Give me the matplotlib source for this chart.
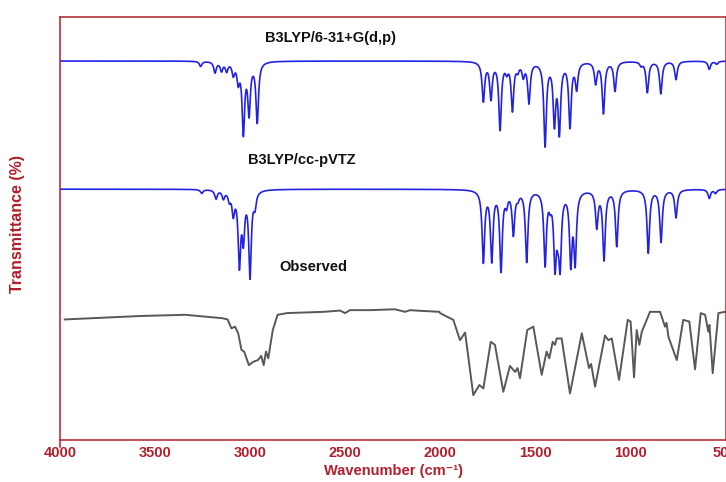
import numpy as np
import matplotlib
matplotlib.use("Agg")
import matplotlib.pyplot as plt

# ---------------- data ----------------
x_ticks = [4000, 3500, 3000, 2500, 2000, 1500, 1000, 500]

# B3LYP/6-31+G(d,p): band centres (cm-1) and band depths (% transmittance)
b1_centers = [3260, 3184, 3150, 3123, 3088, 3062, 3035, 3005, 2962,
              1772, 1732, 1684, 1649, 1619, 1591, 1562, 1532, 1447, 1398,
              1372, 1316, 1281, 1181, 1140, 1079, 942, 909, 838, 758, 583, 544]
b1_depths = [1.2, 2.6, 2.1, 2.1, 2.8, 4.3, 16.5, 11.8, 14.2,
             9.2, 8.5, 15.8, 1.9, 11.3, 1.7, 3.1, 9.5, 19.6, 13.9,
             16.1, 15.1, 6.1, 5.0, 12.1, 6.9, 0.9, 7.3, 7.6, 4.3, 1.9, 0.7]
b1_baseline = 89.6

# B3LYP/cc-pVTZ
b2_centers = [3254, 3179, 3140, 3109, 3088, 3056, 3035, 3000, 2974,
              1772, 1728, 1679, 1650, 1614, 1590, 1544, 1447, 1420, 1395,
              1380, 1368, 1312, 1289, 1175, 1137, 1070, 904, 837, 758, 583, 550]
b2_depths = [0.9, 2.1, 1.9, 2.1, 5.2, 17.0, 10.6, 20.1, 3.3,
             16.8, 16.3, 18.7, 2.8, 10.2, 1.4, 16.8, 17.3, 2.4, 16.5,
             5.9, 16.1, 16.5, 16.3, 8.5, 16.3, 13.2, 14.9, 12.3, 6.6, 2.1, 0.9]
b2_baseline = 59.3

# Observed spectrum (wavenumber, transmittance)
obs_wn = [3975, 3585, 3342, 3147, 3118, 3098, 3079, 3062, 3045, 3031, 3006,
          2982, 2958, 2941, 2928, 2916, 2904, 2880, 2855, 2806, 2612, 2526,
          2500, 2474, 2368, 2237, 2184, 2158, 2126, 2003, 2000, 1930, 1895,
          1868, 1825, 1793, 1772, 1733, 1711, 1667, 1632, 1605, 1592, 1579,
          1541, 1509, 1465, 1439, 1425, 1407, 1395, 1386, 1360, 1316, 1254,
          1216, 1205, 1184, 1132, 1114, 1096, 1058, 1012, 997, 979, 965, 951,
          938, 895, 842, 816, 808, 798, 754, 720, 688, 658, 628, 605, 588,
          582, 565, 535, 500]
obs_T = [28.5, 29.3, 29.6, 28.8, 28.5, 26.4, 26.8, 25.2, 21.3, 20.9, 17.7,
         18.5, 18.9, 19.9, 17.7, 20.9, 19.3, 26.0, 29.6, 30.0, 30.3, 30.6,
         30.0, 30.7, 30.7, 30.9, 30.3, 30.7, 30.6, 30.3, 30.0, 28.4, 23.6,
         25.4, 10.6, 13.0, 12.2, 23.2, 22.5, 11.4, 17.5, 16.1, 17.0, 14.6,
         26.0, 26.8, 15.4, 20.9, 19.3, 23.2, 22.5, 24.0, 24.0, 11.0, 25.2,
         17.0, 18.0, 12.6, 24.7, 23.6, 24.0, 14.2, 28.4, 28.0, 14.8, 26.0, 22.5,
         25.6, 30.3, 30.3, 26.8, 27.7, 24.4, 18.9, 28.4, 28.0, 16.7, 30.0, 29.6, 25.6,
         27.2, 15.8, 30.0, 30.3]

labels = ["B3LYP/6-31+G(d,p)", "B3LYP/cc-pVTZ", "Observed"]

# ---------------- styling ----------------
RED = "#B11F2C"
BLUE = "#2222E0"
GRAY = "#585858"
TXT_FAM = ["Liberation Sans Narrow", "Liberation Sans", "DejaVu Sans"]

HWHM = 8.0
wn = np.linspace(4000, 495, 5000)


def broadened(baseline, centers, depths):
    c = np.asarray(centers, float)[:, None]
    d = np.asarray(depths, float)[:, None]
    return baseline - (d / (1.0 + ((wn[None, :] - c) / HWHM) ** 2)).sum(axis=0)


fig = plt.figure(figsize=(7.26, 4.82), dpi=100)
ax = fig.add_axes([60 / 726, 42 / 482, 666 / 726, 423 / 482])

ax.plot(wn, broadened(b1_baseline, b1_centers, b1_depths), color=BLUE, lw=1.2)
ax.plot(wn, broadened(b2_baseline, b2_centers, b2_depths), color=BLUE, lw=1.2)
ax.plot(obs_wn, obs_T, color=GRAY, lw=1.4, solid_joinstyle="round")

ax.set_xlim(4000, 495)
ax.set_ylim(0, 100)
ax.set_xticks(x_ticks)
ax.set_xticklabels([str(t) for t in x_ticks], color=RED, fontweight="bold",
                   fontsize=10.5, family=TXT_FAM)
ax.set_yticks([])
ax.tick_params(axis="x", length=0, pad=4)
for s in ax.spines.values():
    s.set_color(RED)
    s.set_linewidth(1.1)
ax.spines["left"].set_bounds(-1.7, 100)

ax.set_xlabel("Wavenumber (cm\u207b\u00b9)", color=RED, fontweight="bold",
              fontsize=10.5, family=TXT_FAM, labelpad=3)
fig.text(18 / 726, 1 - 224 / 482, "Transmittance (%)", rotation=90,
         color=RED, fontweight="bold", fontsize=11.5, family=TXT_FAM,
         ha="center", va="center")

ax.text(2579, 95.0, labels[0], ha="center", va="center", fontsize=10.5,
        family=TXT_FAM, fontweight="bold", color="#111111")
ax.text(2726, 66.2, labels[1], ha="center", va="center", fontsize=10.5,
        family=TXT_FAM, fontweight="bold", color="#111111")
ax.text(2668, 40.9, labels[2], ha="center", va="center", fontsize=10.5,
        family=TXT_FAM, fontweight="bold", color="#111111")

fig.savefig("out.png", dpi=100)
